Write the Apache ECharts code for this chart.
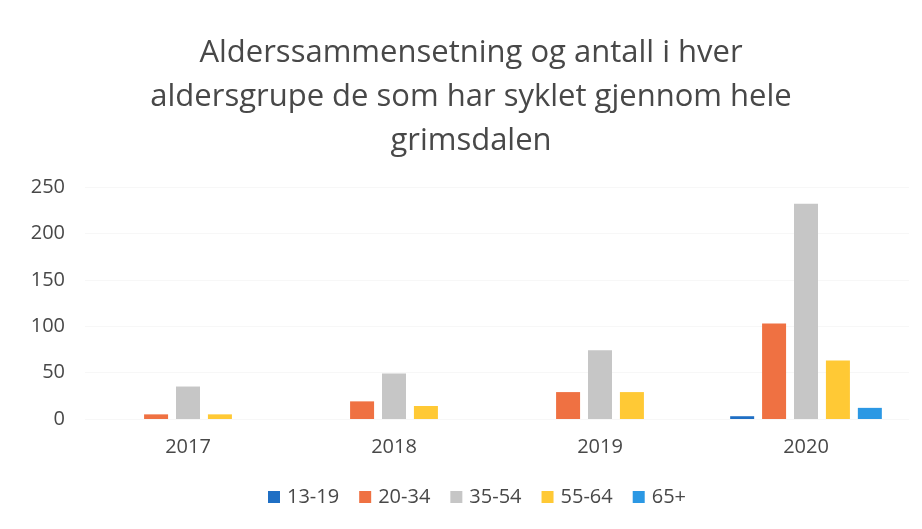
<!DOCTYPE html>
<html>
<head>
<meta charset="utf-8">
<script src="https://cdn.jsdelivr.net/npm/echarts@6/dist/echarts.min.js"></script>
<style>
  html, body { margin: 0; padding: 0; background: #fff; }
  #chart { width: 922px; height: 529px; }
</style>
</head>
<body>
<div id="chart"></div>
<script>
// data ==========================================
const years = ['2017', '2018', '2019', '2020'];
const ageGroups = ['13-19', '20-34', '35-54', '55-64', '65+'];
const age13to19 = [0, 0, 0, 3];
const age20to34 = [5, 19, 29, 103];
const age35to54 = [35, 49, 74, 232];
const age55to64 = [5, 14, 29, 63];
const age65plus = [0, 0, 0, 12];
const yTicks = { min: 0, max: 250, interval: 50 };

const seriesValues = [age13to19, age20to34, age35to54, age55to64, age65plus];
const seriesColors = ['#1f6fc4', '#ef7142', '#c6c6c6', '#ffc935', '#2b98e4'];

const chart = echarts.init(document.getElementById('chart'));
const font = '"Open Sans", sans-serif';

const option = {
    backgroundColor: '#fff',
    title: {
        text: 'Alderssammensetning og antall i hver\naldersgrupe de som har syklet gjennom hele\ngrimsdalen',
        left: 466,
        top: 26,
        textAlign: 'center',
        textStyle: {
            fontFamily: font,
            fontSize: 31,
            fontWeight: 'normal',
            color: '#484848',
            lineHeight: 44
        }
    },
    legend: {
        data: ageGroups,
        bottom: 17,
        left: 263,
        icon: 'rect',
        itemWidth: 12,
        itemHeight: 12,
        itemGap: 20,
        textStyle: { fontFamily: font, fontSize: 20, color: '#484848', padding: [0, 0, 0, 2] }
    },
    grid: { left: 85, right: 13, top: 187, bottom: 110, outerBoundsMode: 'none' },
    xAxis: {
        type: 'category',
        data: years,
        axisLine: { show: false },
        axisTick: { show: false },
        axisLabel: { fontFamily: font, fontSize: 20, color: '#484848', margin: 18 }
    },
    yAxis: {
        type: 'value',
        min: yTicks.min,
        max: yTicks.max,
        interval: yTicks.interval,
        axisLine: { show: false },
        axisTick: { show: false },
        axisLabel: { fontFamily: font, fontSize: 20, color: '#484848', margin: 20 },
        splitLine: { lineStyle: { color: '#f7f7f7', width: 1 } }
    },
    series: ageGroups.map((name, i) => ({
        name: name,
        type: 'bar',
        data: seriesValues[i],
        barWidth: 24,
        barGap: '33%',
        itemStyle: { color: seriesColors[i] }
    }))
};
chart.setOption(option);
</script>
</body>
</html>
